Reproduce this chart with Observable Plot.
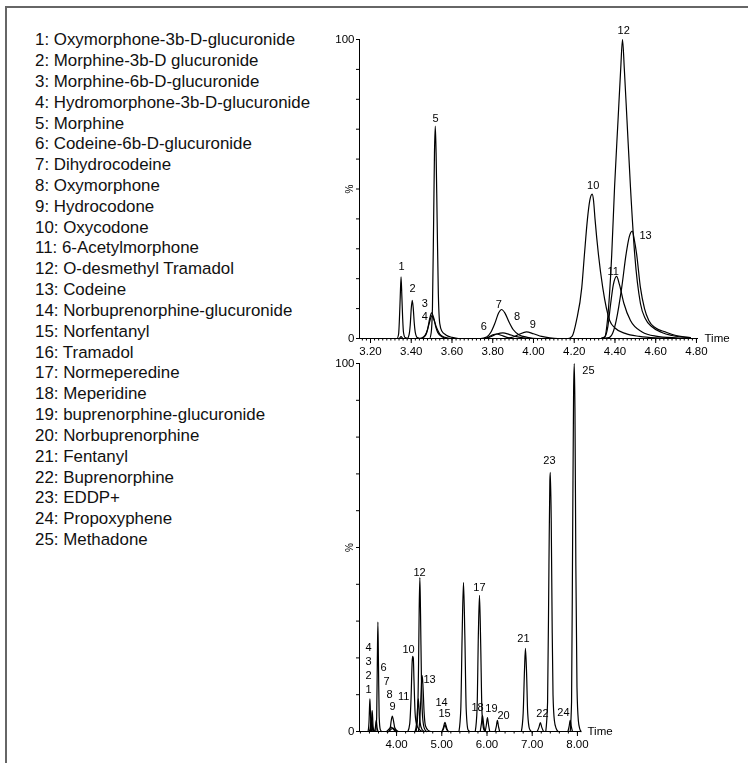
<!DOCTYPE html>
<html><head><meta charset="utf-8">
<script src="https://cdn.jsdelivr.net/npm/d3@7"></script>
<script src="https://cdn.jsdelivr.net/npm/@observablehq/plot@0.6"></script>
<style>
html,body{margin:0;padding:0;background:#fff;}
#wrap{position:relative;width:748px;height:763px;overflow:hidden;font-family:"Liberation Sans",Arial,sans-serif;background:#fff;}
#frame{position:absolute;left:5px;top:6px;width:780px;height:800px;border:2px solid #666;box-sizing:border-box;}
#legend{position:absolute;left:35px;top:30.2px;font-size:16.9px;line-height:20.83px;color:#111;white-space:nowrap;}
.chart{position:absolute;will-change:transform;}
.chart svg{overflow:visible;}
</style></head><body>
<div id="wrap"><div id="frame"></div><div id="legend"></div><div id="top" class="chart"></div><div id="bottom" class="chart"></div></div>
<script>
// ---- legend ----
const compoundNames = [
  "Oxymorphone-3b-D-glucuronide","Morphine-3b-D glucuronide","Morphine-6b-D-glucuronide",
  "Hydromorphone-3b-D-glucuronide","Morphine","Codeine-6b-D-glucuronide","Dihydrocodeine",
  "Oxymorphone","Hydrocodone","Oxycodone","6-Acetylmorphone","O-desmethyl Tramadol","Codeine",
  "Norbuprenorphine-glucuronide","Norfentanyl","Tramadol","Normeperedine","Meperidine",
  "buprenorphine-glucuronide","Norbuprenorphine","Fentanyl","Buprenorphine","EDDP+",
  "Propoxyphene","Methadone"
];

// ---- axes ----
const yTicks = [0,10,20,30,40,50,60,70,80,90,100];
const topMajorTicks = [3.2,3.4,3.6,3.8,4.0,4.2,4.4,4.6,4.8];
const topTickLabels = ["3.20","3.40","3.60","3.80","4.00","4.20","4.40","4.60","4.80"];
const bottomMajorTicks = [4,5,6,7,8];
const bottomTickLabels = ["4.00","5.00","6.00","7.00","8.00"];
const topDomain = [3.146, 4.81];
const bottomDomain = [3.18, 8.09];

// ---- top chromatogram (3.2 - 4.8 min), [time, %] ----
const topTraces = [
  [[3.15,0],[3.33,0],[3.338,1.5],[3.342,6.5],[3.346,14],[3.350,20.6],[3.354,14],[3.358,6.5],[3.362,2],[3.37,0.3],[3.39,0],[3.62,0]],
  [[3.15,0],[3.38,0],[3.39,1.5],[3.395,4.5],[3.40,10],[3.405,12.8],[3.41,10],[3.415,5],[3.42,2],[3.43,0.3],[3.45,0],[3.63,0]],
  [[3.15,0],[3.34,0],[3.35,0.6],[3.36,0],[3.45,0],[3.47,1],[3.48,3],[3.49,6.5],[3.50,8.6],[3.51,7],[3.52,4],[3.53,2],[3.55,0.6],[3.58,0],[3.63,0]],
  [[3.15,0],[3.44,0],[3.46,0.5],[3.475,2],[3.49,5.5],[3.50,7.6],[3.51,6.5],[3.525,3.5],[3.54,1.5],[3.56,0.5],[3.60,0],[3.63,0]],
  [[3.15,0],[3.49,0],[3.498,2],[3.504,10],[3.510,40],[3.514,62],[3.518,71],[3.522,62],[3.527,40],[3.533,15],[3.540,5],[3.55,2.5],[3.57,1.2],[3.60,0.4],[3.63,0]],
  [[3.70,0],[3.76,0],[3.78,0.5],[3.80,1.2],[3.82,1.5],[3.84,1.1],[3.87,0.4],[3.90,0],[4.24,0]],
  [[3.70,0],[3.74,0],[3.77,0.5],[3.79,2],[3.81,5],[3.83,8.7],[3.843,9.7],[3.86,8.5],[3.88,5.5],[3.90,3],[3.93,1.2],[3.97,0.4],[4.02,0],[4.24,0]],
  [[3.70,0],[3.76,0],[3.79,0.6],[3.82,1.5],[3.85,1.9],[3.88,1.4],[3.91,0.7],[3.95,0.2],[4.00,0],[4.24,0]],
  [[3.70,0],[3.86,0],[3.90,0.5],[3.93,1.4],[3.965,2.2],[4.00,1.6],[4.04,0.7],[4.08,0.2],[4.12,0],[4.24,0]],
  [[4.00,0],[4.17,0],[4.19,0.8],[4.211,6],[4.237,17],[4.25,28],[4.265,40],[4.276,46],[4.288,48.3],[4.295,46],[4.302,40],[4.319,28],[4.34,17],[4.374,6],[4.40,3.5],[4.45,1.7],[4.52,0.7],[4.60,0.2],[4.70,0]],
  [[4.33,0],[4.35,0.5],[4.365,4],[4.379,11.7],[4.392,18],[4.408,20.8],[4.422,18],[4.444,11.7],[4.476,6],[4.533,2.2],[4.60,0.8],[4.70,0.2],[4.77,0]],
  [[4.33,0],[4.35,0.5],[4.363,6],[4.384,28],[4.398,50.7],[4.415,73],[4.428,90],[4.437,100],[4.446,90],[4.459,73],[4.476,50.7],[4.497,28],[4.525,11.7],[4.55,6.5],[4.58,4],[4.63,2],[4.68,1],[4.77,0.3]],
  [[4.33,0],[4.37,0.3],[4.39,2],[4.406,6],[4.433,17],[4.455,28.4],[4.47,34],[4.485,35.9],[4.495,33],[4.506,28.4],[4.525,17],[4.545,10],[4.566,6],[4.60,3.5],[4.647,2.2],[4.70,1],[4.77,0.3]]
];
const topLabelText = ["1","2","3","4","5","6","7","8","9","10","11","12","13"];
const topLabelTime = [3.352,3.406,3.467,3.467,3.519,3.756,3.83,3.92,3.997,4.293,4.391,4.443,4.55];
const topLabelPct  = [24.2,16.7,11.7,7.4,73.6,3.9,11.5,7.5,4.8,51.3,22.3,102.9,34.3];

// ---- bottom chromatogram (full run), [time, %] ----
const bottomTraces = [
  [[3.37,0],[3.39,2.5],[3.40,6],[3.41,8.9],[3.42,6],[3.43,2.5],[3.45,0]],
  [[3.42,0],[3.44,1.5],[3.45,4],[3.46,5.7],[3.47,4],[3.48,1.5],[3.50,0]],
  [[3.40,0],[3.42,1.2],[3.44,3.5],[3.46,1.2],[3.48,0]],
  [[3.41,0],[3.43,1],[3.45,3],[3.47,1],[3.49,0]],
  [[3.54,0],[3.56,4],[3.575,20],[3.587,29.7],[3.60,18],[3.615,4],[3.64,0.5],[3.67,0]],
  [[3.51,0],[3.53,1],[3.55,3],[3.57,1],[3.59,0]],
  [[3.78,0],[3.83,0.6],[3.88,1.2],[3.93,0.6],[3.98,0]],
  [[3.82,0],[3.87,0.5],[3.92,0.9],[3.97,0.4],[4.02,0]],
  [[3.83,0],[3.86,1],[3.88,2.8],[3.905,4.2],[3.93,3],[3.96,1],[4.00,0.3],[4.04,0]],
  [[4.25,0],[4.29,2],[4.32,9],[4.345,19],[4.355,20.4],[4.37,20],[4.385,14],[4.41,5],[4.44,2],[4.50,0.6],[4.58,0]],
  [[4.41,0],[4.44,2],[4.465,6.5],[4.48,8.9],[4.495,6.5],[4.52,2.5],[4.56,0.6],[4.62,0]],
  [[4.43,0],[4.46,3],[4.485,17],[4.50,33],[4.515,41.8],[4.53,32],[4.55,14],[4.575,4],[4.61,1],[4.66,0]],
  [[4.48,0],[4.51,2.5],[4.535,8.5],[4.555,14],[4.568,15.2],[4.585,12],[4.61,5],[4.64,1.5],[4.70,0.3],[4.75,0]],
  [[5.00,0],[5.03,0.8],[5.055,2],[5.07,2.5],[5.09,1.8],[5.12,0.5],[5.15,0]],
  [[5.01,0],[5.04,0.8],[5.07,1.8],[5.10,0.8],[5.14,0]],
  [[5.38,0],[5.42,6],[5.45,26],[5.48,40.5],[5.51,26],[5.54,6],[5.58,0.5],[5.62,0]],
  [[5.74,0],[5.78,6],[5.81,27],[5.834,37],[5.86,24],[5.89,5],[5.93,0.5],[5.96,0]],
  [[5.85,0],[5.875,2],[5.90,4.3],[5.925,2],[5.95,0]],
  [[5.96,0],[5.985,1.7],[6.01,3.8],[6.035,1.7],[6.06,0]],
  [[6.18,0],[6.205,1.3],[6.23,3],[6.255,1.3],[6.28,0]],
  [[6.76,0],[6.80,5],[6.83,17],[6.85,22.6],[6.875,16],[6.90,5],[6.94,0.7],[6.98,0]],
  [[7.11,0],[7.15,1.2],[7.18,2.4],[7.21,1.2],[7.25,0]],
  [[7.30,0],[7.34,8],[7.37,45],[7.39,68],[7.40,70.4],[7.42,58],[7.44,30],[7.46,10],[7.49,3],[7.53,0.8],[7.57,0]],
  [[7.79,0],[7.815,1.3],[7.84,3],[7.865,1.3],[7.89,0]],
  [[7.84,0],[7.87,8],[7.895,55],[7.915,92],[7.93,100],[7.945,88],[7.965,45],[7.99,12],[8.02,3],[8.05,0.8],[8.08,0]]
];
const bottomLabelText = ["1","2","3","4","6","7","8","9","10","11","12","13","14","15","17","18","19","20","21","22","23","24","25"];
const bottomLabelTime = [3.381,3.381,3.381,3.381,3.713,3.779,3.845,3.912,4.265,4.155,4.508,4.729,4.994,5.061,5.834,5.79,6.099,6.365,6.807,7.227,7.381,7.691,8.243];
const bottomLabelPct  = [11.4,15.2,19.0,22.8,17.4,13.6,10.1,6.8,22.3,9.5,43.2,14.1,7.9,4.9,39.1,6.5,6.3,4.3,25.3,4.9,73.6,5.2,98.1];

// ---- build ----
document.getElementById("legend").innerHTML =
  compoundNames.map((n,i)=>`<div>${i+1}: ${n}</div>`).join("");

const FONT = '"Liberation Sans", Arial, sans-serif';
const toRows = traces => traces.flatMap((pts,i)=>pts.map(([t,v])=>({t,v,id:i})));
const labelRows = (txt,tm,pc) => txt.map((s,i)=>({s,t:tm[i],v:pc[i]}));
const minorRange = (a,b,step) => d3.range(Math.round(a/step), Math.round(b/step)+1).map(k=>+(k*step).toFixed(3));

function chromatogram({traces, labels, domain, majorTicks, majorLabels, minorTicks, width, height, marginTop, pxPerMin}) {
  return Plot.plot({
    width, height,
    marginLeft: 50, marginRight: width - 50 - Math.round((domain[1]-domain[0])*pxPerMin),
    marginTop, marginBottom: 25,
    x: {domain, label: null},
    y: {domain: [0,100], label: null},
    style: {fontFamily: FONT, fontSize: "11px", background: "transparent", color: "#000"},
    marks: [
      Plot.axisX({ticks: minorTicks, tickSize: 2.5, tickFormat: () => "", label: null, stroke: "#000"}),
      Plot.axisX({ticks: majorTicks, tickSize: 5, tickPadding: 3, tickFormat: d => majorLabels[majorTicks.indexOf(d)] ?? "", label: null, fontSize: 11.5, stroke: "#000"}),
      Plot.axisY({ticks: yTicks, tickSize: 3, tickPadding: 2, tickFormat: d => (d===0||d===100) ? String(d) : "", label: null, fontSize: 11.5, stroke: "#000"}),
      Plot.ruleY([0], {stroke: "#000", strokeWidth: 1}),
      Plot.ruleX([domain[0]], {stroke: "#000", strokeWidth: 1}),
      Plot.line(toRows(traces), {x: "t", y: "v", z: "id", curve: "monotone-x", stroke: "#000", strokeWidth: 1.2}),
      Plot.text(labels, {x: "t", y: "v", text: "s", fontSize: 11, fill: "#000"}),
      Plot.text([{t: domain[1], v: 0, s: "Time"}], {x: "t", y: "v", text: "s", dx: 6, textAnchor: "start", fontSize: 11.5, fill: "#000"}),
      Plot.text([{t: domain[0], v: 50, s: "%"}], {x: "t", y: "v", text: "s", dx: -10, rotate: -90, fontSize: 10, fill: "#000"})
    ]
  });
}

const topChart = chromatogram({
  traces: topTraces,
  labels: labelRows(topLabelText, topLabelTime, topLabelPct),
  domain: topDomain,
  majorTicks: topMajorTicks, majorLabels: topTickLabels,
  minorTicks: minorRange(3.16, 4.80, 0.02),
  width: 429, height: 344, marginTop: 20, pxPerMin: 203.75
});
const topDiv = document.getElementById("top");
topDiv.style.left = "309px"; topDiv.style.top = "19px";
topDiv.appendChild(topChart);

const bottomChart = chromatogram({
  traces: bottomTraces,
  labels: labelRows(bottomLabelText, bottomLabelTime, bottomLabelPct),
  domain: bottomDomain,
  majorTicks: bottomMajorTicks, majorLabels: bottomTickLabels,
  minorTicks: minorRange(3.2, 8.0, 0.2),
  width: 312, height: 403, marginTop: 10, pxPerMin: 45.25
});
const bottomDiv = document.getElementById("bottom");
bottomDiv.style.left = "309px"; bottomDiv.style.top = "353px";
bottomDiv.appendChild(bottomChart);
</script>
</body></html>
